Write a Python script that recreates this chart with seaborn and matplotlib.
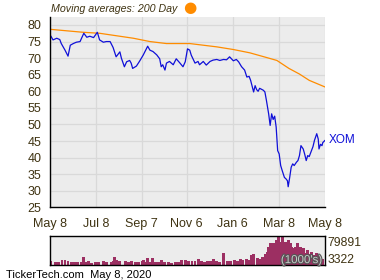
import matplotlib
matplotlib.use("Agg")
import matplotlib.pyplot as plt
import matplotlib.patheffects as pe
import seaborn as sns
import pandas as pd

# ---------------- data ----------------
price_dates = [
    "2019-05-09", "2019-05-12", "2019-05-17", "2019-05-21", "2019-05-23", "2019-05-28",
    "2019-06-01", "2019-06-04", "2019-06-08", "2019-06-12", "2019-06-17", "2019-06-22",
    "2019-06-26", "2019-06-30", "2019-07-05", "2019-07-10", "2019-07-13", "2019-07-18",
    "2019-07-22", "2019-07-27", "2019-07-31", "2019-08-04", "2019-08-09", "2019-08-11",
    "2019-08-15", "2019-08-18", "2019-08-22", "2019-08-24", "2019-08-26", "2019-08-31",
    "2019-09-04", "2019-09-09", "2019-09-15", "2019-09-18", "2019-09-22", "2019-09-27",
    "2019-10-01", "2019-10-03", "2019-10-05", "2019-10-08", "2019-10-10", "2019-10-14",
    "2019-10-19", "2019-10-23", "2019-10-28", "2019-11-01", "2019-11-04", "2019-11-07",
    "2019-11-10", "2019-11-12", "2019-11-17", "2019-11-21", "2019-11-23", "2019-11-28",
    "2019-12-02", "2019-12-07", "2019-12-11", "2019-12-16", "2019-12-20", "2019-12-25",
    "2019-12-29", "2020-01-02", "2020-01-07", "2020-01-11", "2020-01-14", "2020-01-18",
    "2020-01-22", "2020-01-25", "2020-01-28", "2020-01-30", "2020-02-03", "2020-02-05",
    "2020-02-07", "2020-02-09", "2020-02-11", "2020-02-16", "2020-02-18", "2020-02-20",
    "2020-02-23", "2020-02-25", "2020-02-27", "2020-02-29", "2020-03-02", "2020-03-04",
    "2020-03-06", "2020-03-08", "2020-03-10", "2020-03-12", "2020-03-15", "2020-03-17",
    "2020-03-19", "2020-03-20", "2020-03-22", "2020-03-24", "2020-03-26", "2020-03-28",
    "2020-03-31", "2020-04-02", "2020-04-04", "2020-04-06", "2020-04-09", "2020-04-11",
    "2020-04-13", "2020-04-15", "2020-04-17", "2020-04-20", "2020-04-22", "2020-04-24",
    "2020-04-27", "2020-04-29", "2020-04-30", "2020-05-02", "2020-05-04", "2020-05-05",
    "2020-05-08",
]
price_values = [
    76.7, 75.5, 76.0, 75.6, 74.4, 72.4,
    70.6, 73.9, 74.4, 74.8, 75.0, 77.5,
    76.3, 76.6, 76.2, 77.8, 75.5, 74.8,
    75.0, 75.0, 73.2, 70.4, 71.9, 70.0,
    67.4, 68.9, 69.3, 68.5, 66.9, 67.6,
    69.0, 70.9, 73.6, 72.4, 72.0, 71.0,
    69.8, 67.4, 68.0, 66.4, 68.5, 69.0,
    68.0, 69.8, 68.5, 67.4, 68.9, 72.8,
    72.4, 70.9, 68.5, 69.0, 68.0, 69.0,
    67.9, 69.0, 69.4, 69.6, 69.3, 69.6,
    69.5, 70.4, 69.2, 69.6, 68.9, 67.4,
    66.4, 64.3, 64.5, 63.3, 59.8, 61.7,
    60.5, 60.0, 60.9, 60.3, 59.8, 57.3,
    53.2, 49.7, 53.2, 51.5, 52.5, 49.2,
    42.1, 41.1, 37.6, 36.1, 34.0, 33.6,
    33.0, 31.2, 34.0, 37.1, 38.1, 37.6,
    38.6, 39.1, 40.6, 43.6, 42.6, 41.0,
    39.1, 40.6, 40.3, 42.1, 43.3, 45.2,
    47.2, 45.6, 42.6, 44.0, 43.6, 44.5,
    45.2,
]

ma_dates = [
    "2019-05-08", "2019-06-21", "2019-07-13", "2019-08-27", "2019-09-18", "2019-10-10",
    "2019-11-10", "2019-12-16", "2020-01-07", "2020-01-29", "2020-02-20", "2020-03-05",
    "2020-03-21", "2020-04-04", "2020-04-17", "2020-05-08",
]
ma_values = [
    78.7, 77.8, 77.5, 76.0, 75.0, 74.4,
    74.4, 73.4, 72.6, 71.6, 70.2, 69.3,
    66.9, 65.2, 63.3, 61.3,
]

vol_dates = [
    "2019-05-09", "2019-05-15", "2019-05-19", "2019-05-24", "2019-05-28", "2019-06-01",
    "2019-06-05", "2019-06-10", "2019-06-14", "2019-06-19", "2019-06-22", "2019-06-26",
    "2019-06-28", "2019-07-02", "2019-07-07", "2019-07-11", "2019-07-18", "2019-07-22",
    "2019-07-29", "2019-07-31", "2019-08-02", "2019-08-05", "2019-08-09", "2019-08-16",
    "2019-08-20", "2019-08-25", "2019-08-30", "2019-09-03", "2019-09-08", "2019-09-10",
    "2019-09-12", "2019-09-15", "2019-09-18", "2019-09-21", "2019-09-25", "2019-09-29",
    "2019-10-03", "2019-10-08", "2019-10-13", "2019-10-17", "2019-10-22", "2019-10-26",
    "2019-10-30", "2019-11-04", "2019-11-08", "2019-11-13", "2019-11-17", "2019-11-22",
    "2019-11-26", "2019-11-30", "2019-12-04", "2019-12-08", "2019-12-12", "2019-12-15",
    "2019-12-20", "2019-12-25", "2019-12-30", "2020-01-03", "2020-01-08", "2020-01-12",
    "2020-01-17", "2020-01-19", "2020-01-24", "2020-01-28", "2020-01-31", "2020-02-03",
    "2020-02-08", "2020-02-12", "2020-02-15", "2020-02-19", "2020-02-21", "2020-02-23",
    "2020-02-25", "2020-02-27", "2020-02-29", "2020-03-03", "2020-03-05", "2020-03-07",
    "2020-03-10", "2020-03-12", "2020-03-14", "2020-03-17", "2020-03-19", "2020-03-21",
    "2020-03-23", "2020-03-25", "2020-03-28", "2020-03-30", "2020-04-01", "2020-04-04",
    "2020-04-06", "2020-04-08", "2020-04-10", "2020-04-13", "2020-04-15", "2020-04-18",
    "2020-04-20", "2020-04-24", "2020-04-27", "2020-04-30", "2020-05-02", "2020-05-05",
]
vol_values = [
    10100, 7300, 7300, 13800, 13800, 11000,
    9200, 7300, 9200, 9200, 21100, 9200,
    11900, 4600, 7300, 7300, 10100, 8300,
    7300, 11900, 21100, 13800, 11900, 11900,
    8300, 11900, 8300, 7300, 11000, 13800,
    7300, 18400, 9200, 18400, 9200, 9200,
    12900, 9200, 8300, 6400, 9200, 9200,
    13800, 13800, 11900, 10100, 11900, 15600,
    11000, 7300, 11900, 11900, 15600, 11000,
    8300, 32100, 11900, 11900, 13800, 11900,
    15600, 13800, 15600, 13800, 27500, 30300,
    18400, 15600, 23000, 30300, 36700, 50500,
    61500, 45900, 59700, 55100, 68900, 76200,
    64300, 79891, 59700, 64300, 55100, 68900,
    61500, 50500, 45900, 50500, 59700, 45900,
    50500, 36700, 45900, 32100, 41300, 30300,
    36700, 27500, 32100, 30300, 18400, 15600,
]

xtick_dates = ["2019-05-08", "2019-07-08", "2019-09-07", "2019-11-06",
               "2020-01-06", "2020-03-08", "2020-05-08"]
xtick_labels = ["May 8", "Jul 8", "Sep 7", "Nov 6", "Jan 6", "Mar 8", "May 8"]
xminor_dates = ["2019-06-07", "2019-08-07", "2019-10-07", "2019-12-06",
                "2020-02-06", "2020-04-08"]
ytick_values = [25, 30, 35, 40, 45, 50, 55, 60, 65, 70, 75, 80]
vol_max_label = "79891"
vol_min_label = "3322"

# ---------------- style ----------------
sns.set_style("white")
plt.rcParams["font.family"] = ["Liberation Sans", "DejaVu Sans"]
TXT = "#3f3312"
BG = "#ececec"
GRID = "#d9d9d9"

fig = plt.figure(figsize=(3.8, 2.8), dpi=100)
fig.patch.set_facecolor("white")

ax = fig.add_axes([50 / 380, 1 - 207.3 / 280, 275 / 380, (207.3 - 16.7) / 280])
axv = fig.add_axes([50 / 380, 1 - 265 / 280, 275 / 380, 29 / 280])

pdf = pd.DataFrame({"date": pd.to_datetime(price_dates), "price": price_values})
mdf = pd.DataFrame({"date": pd.to_datetime(ma_dates), "ma": ma_values})

ax.set_facecolor(BG)
sns.lineplot(data=mdf, x="date", y="ma", ax=ax, color="#ff8c00", linewidth=0.9,
             estimator=None)
sns.lineplot(data=pdf, x="date", y="price", ax=ax, color="#1010d8", linewidth=0.9,
             estimator=None)

x0 = pd.Timestamp("2019-05-08")
x1 = pd.Timestamp("2020-05-08")
ax.set_xlim(x0, x1)
ax.set_ylim(25, 82.5)
ax.set_xlabel("")
ax.set_ylabel("")
ax.set_xticks(pd.to_datetime(xtick_dates))
ax.set_xticklabels(xtick_labels)
ax.set_xticks(pd.to_datetime(xminor_dates), minor=True)
ax.set_yticks(ytick_values)
ax.set_yticklabels([str(v) for v in ytick_values])
ax.set_yticks([v + 2.5 for v in ytick_values[:-1]] + [82.49], minor=True)
ax.grid(True, which="major", color=GRID, linewidth=0.9)
ax.set_axisbelow(True)
ax.tick_params(axis="both", which="major", direction="in", length=4, width=0.8,
               colors="black", labelcolor=TXT, labelsize=9)
ax.tick_params(axis="both", which="minor", direction="in", length=2.5, width=0.8,
               colors="black")
ax.tick_params(axis="x", pad=8)
ax.tick_params(axis="y", pad=6)
for s in ["top", "right"]:
    ax.spines[s].set_visible(False)
for s in ["left", "bottom"]:
    ax.spines[s].set_color("black")
    ax.spines[s].set_linewidth(1.0)

ax.text(1.012, (45.2 - 25) / 57.5, "XOM", transform=ax.transAxes, color="#1010d8",
        fontsize=8.5, va="center", ha="left")

# volume panel
axv.set_facecolor(BG)
axv.bar(pd.to_datetime(vol_dates), vol_values, width=3.9, color="#9c2f62",
        linewidth=0)
axv.set_xlim(x0, x1)
axv.set_ylim(0, 79891)
axv.set_xticks([])
axv.set_yticks([])
for s in axv.spines.values():
    s.set_color("black")
    s.set_linewidth(1.0)
axv.text(1.008, 0.75, vol_max_label, transform=axv.transAxes, color=TXT,
         fontsize=8.7, va="center", ha="left")
axv.text(1.008, 0.17, vol_min_label, transform=axv.transAxes, color=TXT,
         fontsize=8.7, va="center", ha="left")
axv.text(0.99, 0.17, "(1000's)", transform=axv.transAxes, color="#c8c8c8",
         fontsize=8.3, va="center", ha="right",
         path_effects=[pe.withStroke(linewidth=1.6, foreground="#555555")])

fig.text(152 / 3 / 380, 1 - 9 / 280, "Moving averages: 200 Day", fontsize=7.7,
         style="italic", color=TXT, va="center", ha="left")
fig.text(190 / 380, 1 - 8 / 280, "\u25cf", fontsize=11, color="#ff8c00",
         va="center", ha="center", family="DejaVu Sans")
fig.text(6 / 380, 1 - 275 / 280, "TickerTech.com  May 8, 2020", fontsize=8,
         color="black", va="center", ha="left")

fig.savefig("out.png", dpi=100)
